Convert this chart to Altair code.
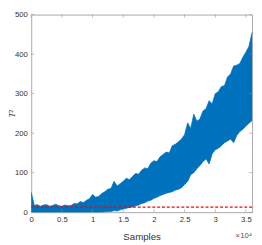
import altair as alt
import pandas as pd

# Sample index grid (every 500 samples)
samples = list(range(0, 36001, 500))

# Upper envelope of the T^2 statistic
upper = [50, 17, 19, 15, 18, 19, 15, 17, 20, 16,
         15, 18, 16, 17, 22, 21, 27, 24, 30, 34,
         45, 38, 40, 47, 52, 58, 60, 78, 66, 72,
         78, 86, 82, 90, 98, 96, 106, 112, 110, 124,
         130, 128, 140, 146, 152, 150, 168, 172, 178, 185,
         196, 226, 212, 248, 230, 236, 256, 262, 282, 274,
         300, 305, 318, 320, 342, 350, 370, 372, 376, 392,
         405, 420, 455]

# Lower envelope of the T^2 statistic
lower = [0.5, 0.5, 0.5, 0.5, 0.5, 0.5, 0.5, 0.5, 0.5, 0.5,
         0.5, 0.5, 0.5, 0.5, 0.5, 0.5, 0.5, 0.5, 0.5, 0.5,
         0.5, 0.5, 0.5, 0.5, 1, 2, 2, 4, 3, 6,
         8, 10, 12, 13, 16, 18, 22, 24, 28, 30,
         35, 38, 42, 45, 48, 50, 52, 56, 58, 62,
         70, 78, 95, 100, 110, 118, 128, 135, 122, 148,
         158, 162, 168, 176, 180, 185, 176, 194, 204, 210,
         218, 225, 232]

threshold = 13

x_ticks = [0, 5000, 10000, 15000, 20000, 25000, 30000, 35000]
y_ticks = [0, 100, 200, 300, 400, 500]

W, H = 228, 204
BLUE = "#0072BD"
TICK = "#8c8c8c"

df = pd.DataFrame({"Samples": samples, "upper": upper, "lower": lower})

xscale = alt.Scale(domain=[0, 36000], nice=False, zero=False)
yscale = alt.Scale(domain=[0, 500], nice=False)

xaxis = alt.Axis(values=x_ticks, labelExpr="datum.value / 10000", title="Samples",
                 grid=False, domain=False, ticks=False, tickSize=0,
                 labelPadding=4, labelFontSize=8, titleFontSize=10,
                 titleFontWeight="normal", titlePadding=8, labelFlush=False,
                 labelColor="#333333", titleColor="#333333",
                 labelFont="Liberation Sans", titleFont="Liberation Sans")
yaxis = alt.Axis(values=y_ticks, title="T²", grid=False, domain=False, ticks=False,
                 tickSize=0, labelPadding=4, labelFontSize=8, titleFontSize=9,
                 titleFontWeight="normal", titleFont="Liberation Serif",
                 titleFontStyle="italic", titlePadding=-2, labelFlush=False,
                 labelColor="#333333", titleColor="#333333",
                 labelFont="Liberation Sans")


def X(field):
    return alt.X(field, scale=xscale, axis=xaxis)


def Y(field):
    return alt.Y(field, scale=yscale, axis=yaxis)


band = alt.Chart(df).mark_area(color=BLUE, opacity=1).encode(
    x=X("Samples:Q"), y=Y("lower:Q"), y2="upper:Q")
up_line = alt.Chart(df).mark_line(color=BLUE, strokeWidth=0.8).encode(
    x=X("Samples:Q"), y=Y("upper:Q"))
low_line = alt.Chart(df).mark_line(color=BLUE, strokeWidth=0.8).encode(
    x=X("Samples:Q"), y=Y("lower:Q"))
thr = alt.Chart(pd.DataFrame({"t": [threshold]})).mark_rule(
    color="#FF0000", strokeDash=[3, 2], strokeWidth=1.2
).encode(y=Y("t:Q"))

xt = pd.DataFrame({"x": x_ticks})
yt = pd.DataFrame({"y": y_ticks})
xt_bottom = alt.Chart(xt).mark_tick(color=TICK, size=3, thickness=0.8, yOffset=-1.5).encode(
    x=X("x:Q"), y=alt.value(H))
xt_top = alt.Chart(xt).mark_tick(color=TICK, size=3, thickness=0.8, yOffset=1.5).encode(
    x=X("x:Q"), y=alt.value(0))
yt_left = alt.Chart(yt).mark_tick(color=TICK, size=3, thickness=0.8, xOffset=1.5).encode(
    y=Y("y:Q"), x=alt.value(0))
yt_right = alt.Chart(yt).mark_tick(color=TICK, size=3, thickness=0.8, xOffset=-1.5).encode(
    y=Y("y:Q"), x=alt.value(W))

exp_label = alt.Chart(pd.DataFrame({"t": ["×10⁴"]})).mark_text(
    align="right", baseline="middle", fontSize=8, color="#555555", font="Liberation Sans"
).encode(text="t:N", x=alt.value(W), y=alt.value(H + 25))

chart = alt.layer(
    band, up_line, low_line, thr, xt_bottom, xt_top, yt_left, yt_right, exp_label
).properties(
    width=W, height=H,
    padding={"left": 24, "top": 3, "right": 2, "bottom": 28},
    autosize=alt.AutoSizeParams(type="none"),
    background="white",
).configure_view(stroke="#a8a8a8", strokeWidth=1)

chart.save("out.html", embed_options={"renderer": "svg", "actions": False})
